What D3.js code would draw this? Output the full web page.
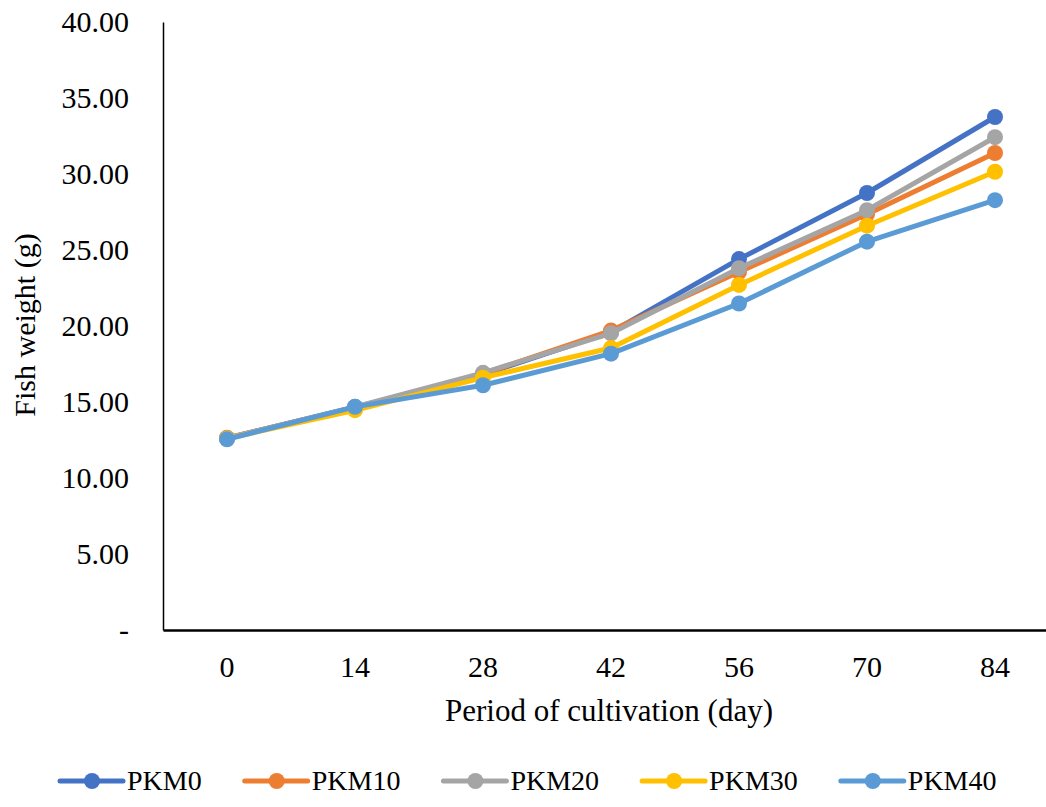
<!DOCTYPE html>
<html>
<head>
<meta charset="utf-8">
<script src="https://cdnjs.cloudflare.com/ajax/libs/d3/7.8.5/d3.min.js"></script>
<style>
  html, body { margin: 0; padding: 0; background: #fff; }
  svg { display: block; font-family: "Liberation Serif", "Times New Roman", serif; }
</style>
</head>
<body>
<div id="chart"></div>
<script>
// fish weight (g) by day of cultivation
var days = ['0', '14', '28', '42', '56', '70', '84'];
var seriesNames = ['PKM0', 'PKM10', 'PKM20', 'PKM30', 'PKM40'];
var seriesColors = ['#4472C4', '#ED7D31', '#A5A5A5', '#FFC000', '#5B9BD5'];
var PKM0  = [12.62, 14.66, 16.80, 19.60, 24.40, 28.75, 33.75];
var PKM10 = [12.64, 14.62, 16.85, 19.70, 23.55, 27.35, 31.38];
var PKM20 = [12.62, 14.68, 16.92, 19.52, 23.80, 27.62, 32.42];
var PKM30 = [12.60, 14.46, 16.60, 18.55, 22.70, 26.60, 30.15];
var PKM40 = [12.55, 14.68, 16.10, 18.18, 21.48, 25.55, 28.28];
var yTicks = [0, 5, 10, 15, 20, 25, 30, 35, 40];

(function () {
  'use strict';

  var W = 1046, H = 807;
  var margin = { top: 22, left: 163, bottom: 177 };
  var plotBottom = H - margin.bottom;
  var fontSize = '30px';

  var values = [PKM0, PKM10, PKM20, PKM30, PKM40];
  var data = seriesNames.map(function (name, i) {
    return {
      name: name,
      color: seriesColors[i],
      values: days.map(function (d, j) { return { day: d, v: values[i][j] }; })
    };
  });

  var svg = d3.select('#chart').append('svg')
    .attr('width', W)
    .attr('height', H);

  var x = d3.scaleBand()
    .domain(days)
    .range([margin.left, margin.left + 7 * 128]);

  var y = d3.scaleLinear()
    .domain([0, 40])
    .range([plotBottom, margin.top]);

  var cx = function (d) { return x(d) + x.bandwidth() / 2; };

  // y axis
  var yAxis = svg.append('g')
    .attr('transform', 'translate(' + margin.left + ',0)')
    .call(d3.axisLeft(y)
      .tickValues(yTicks)
      .tickSize(0)
      .tickPadding(34)
      .tickFormat(function (d) { return d === 0 ? '-' : d3.format('.2f')(d); }));
  yAxis.select('.domain').attr('stroke', '#000').attr('stroke-width', 1.5);
  yAxis.selectAll('text')
    .style('font-family', '"Liberation Serif", serif')
    .style('font-size', fontSize)
    .attr('fill', '#000');

  // x axis
  var xAxis = svg.append('g')
    .attr('transform', 'translate(0,' + plotBottom + ')')
    .call(d3.axisBottom(x).tickSize(0).tickPadding(24));
  xAxis.select('.domain').attr('stroke', '#000').attr('stroke-width', 2.5);
  xAxis.selectAll('text')
    .attr('dy', null)
    .attr('y', 47)
    .style('font-family', '"Liberation Serif", serif')
    .style('font-size', fontSize)
    .attr('fill', '#000');

  // titles
  svg.append('text')
    .attr('x', 609)
    .attr('y', 721)
    .attr('text-anchor', 'middle')
    .style('font-size', '31px')
    .text('Period of cultivation (day)');

  svg.append('text')
    .attr('transform', 'translate(35,' + 325 + ') rotate(-90)')
    .attr('text-anchor', 'middle')
    .style('font-size', fontSize)
    .text('Fish weight (g)');

  // lines
  var line = d3.line()
    .x(function (d) { return cx(d.day); })
    .y(function (d) { return y(d.v); });

  var series = svg.selectAll('.series')
    .data(data)
    .enter().append('g')
    .attr('class', 'series');

  series.append('path')
    .attr('d', function (d) { return line(d.values); })
    .attr('fill', 'none')
    .attr('stroke', function (d) { return d.color; })
    .attr('stroke-width', 5)
    .attr('stroke-linejoin', 'round');

  series.selectAll('circle')
    .data(function (d) { return d.values.map(function (p) { return { p: p, color: d.color }; }); })
    .enter().append('circle')
    .attr('cx', function (d) { return cx(d.p.day); })
    .attr('cy', function (d) { return y(d.p.v); })
    .attr('r', 8)
    .attr('fill', function (d) { return d.color; });

  // legend, items laid out by their text width
  var legend = svg.append('g')
    .attr('transform', 'translate(60,781)');

  var item = legend.selectAll('.item')
    .data(data)
    .enter().append('g')
    .attr('class', 'item');

  item.append('line')
    .attr('x1', 0).attr('x2', 63)
    .attr('y1', 0).attr('y2', 0)
    .attr('stroke', function (d) { return d.color; })
    .attr('stroke-width', 5)
    .attr('stroke-linecap', 'round');

  item.append('circle')
    .attr('cx', 32).attr('cy', 0).attr('r', 8)
    .attr('fill', function (d) { return d.color; });

  item.append('text')
    .attr('x', 67)
    .attr('y', 9)
    .style('font-size', '28px')
    .text(function (d) { return d.name; });

  var offset = 0;
  item.each(function () {
    var g = d3.select(this);
    g.attr('transform', 'translate(' + offset + ',0)');
    offset += 67 + g.select('text').node().getComputedTextLength() + 43;
  });
})();
</script>
</body>
</html>
